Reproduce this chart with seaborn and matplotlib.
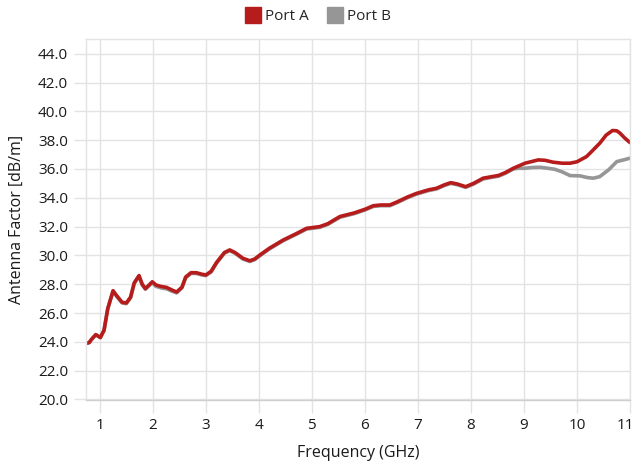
import numpy as np
import pandas as pd
import matplotlib
matplotlib.use("Agg")
import matplotlib.pyplot as plt
from matplotlib.lines import Line2D
from matplotlib.transforms import ScaledTranslation
import seaborn as sns

freq_a = [0.75, 0.80, 0.85, 0.925, 1.01, 1.08, 1.15, 1.25, 1.32, 1.42, 1.50, 1.58, 1.65, 1.74,
          1.80, 1.86, 1.93, 1.99, 2.06, 2.15, 2.26, 2.36, 2.45, 2.55, 2.62, 2.72, 2.82, 2.92,
          3.0, 3.1, 3.2, 3.35, 3.45, 3.55, 3.70, 3.83, 3.92, 4.02, 4.2, 4.46, 4.7, 4.90, 5.15,
          5.3, 5.53, 5.8, 6.0, 6.16, 6.3, 6.47, 6.6, 6.8, 6.97, 7.2, 7.35, 7.5, 7.62, 7.75, 7.9,
          8.05, 8.23, 8.52, 8.65, 8.80, 9.02, 9.27, 9.4, 9.55, 9.72, 9.87, 10.0, 10.18, 10.3,
          10.43, 10.55, 10.67, 10.75, 10.81, 10.9, 11.0]
port_a = [23.9, 23.95, 24.2, 24.5, 24.3, 24.8, 26.3, 27.55, 27.2, 26.75, 26.7, 27.1, 28.1, 28.6,
          28.0, 27.7, 27.95, 28.17, 27.95, 27.85, 27.78, 27.6, 27.46, 27.8, 28.5, 28.8, 28.8, 28.7,
          28.64, 28.9, 29.5, 30.2, 30.38, 30.2, 29.8, 29.63, 29.75, 30.03, 30.5, 31.07, 31.5, 31.88,
          32.0, 32.2, 32.7, 32.95, 33.2, 33.45, 33.5, 33.5, 33.7, 34.05, 34.3, 34.55, 34.66, 34.9,
          35.05, 34.95, 34.77, 35.0, 35.36, 35.55, 35.75, 36.05, 36.4, 36.63, 36.6, 36.47, 36.4,
          36.4, 36.5, 36.86, 37.3, 37.79, 38.35, 38.67, 38.65, 38.49, 38.15, 37.83]

freq_b = [0.75, 0.80, 0.85, 0.925, 1.01, 1.08, 1.15, 1.25, 1.32, 1.42, 1.50, 1.58, 1.65, 1.74,
          1.80, 1.86, 1.93, 1.99, 2.06, 2.15, 2.26, 2.36, 2.45, 2.55, 2.62, 2.72, 2.82, 2.92,
          3.0, 3.1, 3.2, 3.35, 3.45, 3.55, 3.70, 3.83, 3.92, 4.02, 4.2, 4.46, 4.7, 4.90, 5.15,
          5.3, 5.53, 5.8, 6.0, 6.16, 6.3, 6.47, 6.6, 6.8, 6.97, 7.2, 7.35, 7.5, 7.62, 7.75, 7.9,
          8.05, 8.23, 8.52, 8.65, 8.80, 8.9, 9.02, 9.15, 9.30, 9.45, 9.58, 9.72, 9.87, 10.06,
          10.2, 10.31, 10.43, 10.6, 10.75, 10.9, 11.0]
port_b = [23.9, 23.95, 24.2, 24.5, 24.3, 24.8, 26.3, 27.5, 27.15, 26.7, 26.65, 27.05, 28.05, 28.55,
          27.95, 27.65, 27.9, 28.1, 27.85, 27.75, 27.68, 27.52, 27.4, 27.75, 28.45, 28.75, 28.75, 28.65,
          28.6, 28.85, 29.45, 30.15, 30.33, 30.15, 29.75, 29.58, 29.7, 29.98, 30.45, 31.02, 31.45, 31.83,
          31.95, 32.15, 32.65, 32.9, 33.15, 33.4, 33.45, 33.45, 33.65, 34.0, 34.25, 34.5, 34.61, 34.85,
          35.0, 34.9, 34.72, 34.95, 35.31, 35.5, 35.7, 36.0, 36.05, 36.05, 36.1, 36.12, 36.05, 35.98,
          35.8, 35.54, 35.52, 35.4, 35.36, 35.47, 35.95, 36.51, 36.65, 36.75]

series_names = ["Port A", "Port B"]
colors = {"Port A": "#b71c1c", "Port B": "#969696"}
y_ticks = [20, 22, 24, 26, 28, 30, 32, 34, 36, 38, 40, 42, 44]
x_ticks = [1, 2, 3, 4, 5, 6, 7, 8, 9, 10, 11]

df = pd.concat([
    pd.DataFrame({"Frequency": freq_b, "Value": port_b, "Series": "Port B"}),
    pd.DataFrame({"Frequency": freq_a, "Value": port_a, "Series": "Port A"}),
], ignore_index=True)

sns.set_theme(style="white")
plt.rcParams["font.family"] = ["Open Sans", "DejaVu Sans"]

fig = plt.figure(figsize=(6.37, 4.66), dpi=100)
ax = fig.add_axes([86 / 637, 1 - 399.5 / 466, (630 - 86) / 637, (399.5 - 39.3) / 466])

sns.lineplot(data=df, x="Frequency", y="Value", hue="Series", palette=colors,
             hue_order=["Port B", "Port A"], linewidth=2.6, ax=ax, legend=False,
             sort=False, estimator=None)

ax.set_xlim(0.74, 11)
ax.set_ylim(20, 45)
ax.set_xticks(x_ticks)
ax.set_xticklabels([str(v) for v in x_ticks])
ax.set_yticks(y_ticks)
ax.set_yticklabels([f"{v:.1f}" for v in y_ticks])
ax.grid(True, color="#e3e3e3", linewidth=1)
ax.set_axisbelow(True)
for s in ["top", "right", "left"]:
    ax.spines[s].set_color("#e3e3e3")
    ax.spines[s].set_linewidth(1)
ax.spines["bottom"].set_color("#cfcfcf")
ax.spines["bottom"].set_linewidth(1)
ax.tick_params(axis="both", which="both", length=9, width=1, color="#e3e3e3",
               labelsize=11, labelcolor="#1a1a1a", pad=4, left=True, bottom=True)
ax.set_xlabel("Frequency (GHz)", fontsize=11.5, color="#1a1a1a", labelpad=9)
ax.set_ylabel("Antenna Factor [dB/m]", fontsize=11.5, color="#1a1a1a", labelpad=9)

last = ax.get_xticklabels()[-1]
last.set_horizontalalignment("right")
last.set_transform(last.get_transform() + ScaledTranslation(4 / 100, 0, fig.dpi_scale_trans))

handles = [Line2D([0], [0], marker="s", linestyle="none", markersize=11,
                  markerfacecolor=colors[n], markeredgecolor=colors[n]) for n in series_names]
fig.legend(handles, series_names, loc="center", bbox_to_anchor=(0.5, 1 - 17 / 466),
           ncol=2, frameon=False, fontsize=11, handletextpad=0.3, columnspacing=1.2,
           handlelength=1.0)

fig.savefig("out.png", dpi=100)
